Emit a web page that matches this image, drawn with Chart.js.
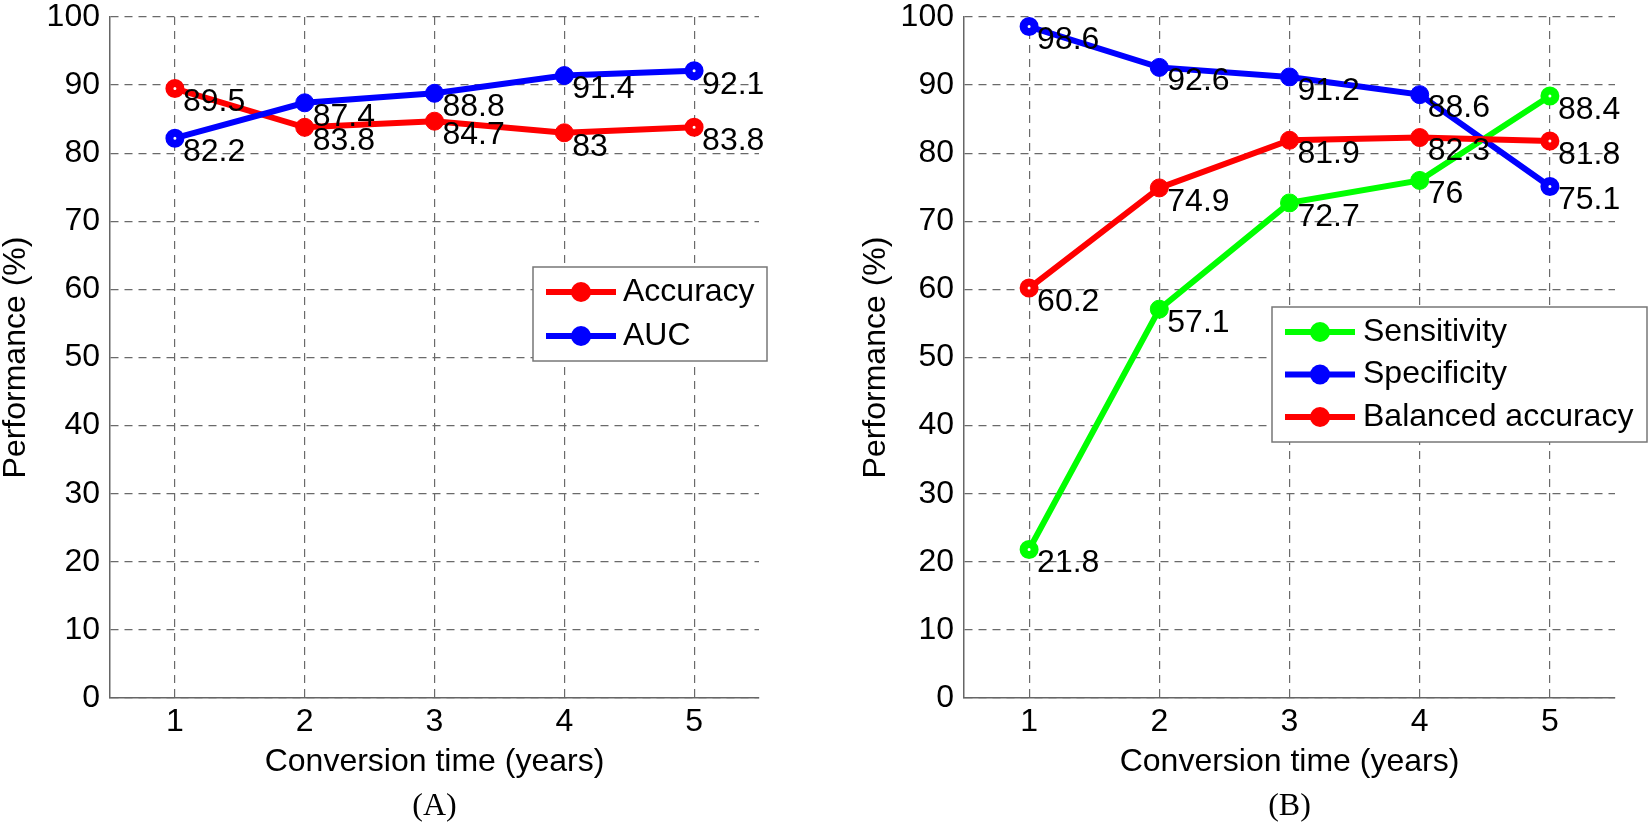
<!DOCTYPE html>
<html>
<head>
<meta charset="utf-8">
<script src="https://cdn.jsdelivr.net/npm/chart.js@4.4.1/dist/chart.umd.min.js"></script>
<style>
  body { margin: 0; background: #fff; width: 1650px; height: 824px; overflow: hidden; }
  canvas { position: absolute; top: 0; }
  #chartA { left: 0; }
  #chartB { left: 825px; }
</style>
</head>
<body>
<canvas id="chartA" width="825" height="824"></canvas>
<canvas id="chartB" width="825" height="824"></canvas>
<script>
// data
const years = ["1", "2", "3", "4", "5"];
const yTicks = [0, 10, 20, 30, 40, 50, 60, 70, 80, 90, 100];

const accuracy = [89.5, 83.8, 84.7, 83, 83.8];
const auc = [82.2, 87.4, 88.8, 91.4, 92.1];

const sensitivity = [21.8, 57.1, 72.7, 76, 88.4];
const specificity = [98.6, 92.6, 91.2, 88.6, 75.1];
const balancedAcc = [60.2, 74.9, 81.9, 82.3, 81.8];

const SANS = '"Liberation Sans", Arial, Helvetica, sans-serif';
const SERIF = '"Liberation Serif", "Times New Roman", serif';
Chart.defaults.font.family = SANS;
Chart.defaults.color = "#000";

// value printed beside every point
const valueLabels = {
    id: "valueLabels",
    afterDatasetsDraw(chart) {
        const ctx = chart.ctx;
        ctx.save();
        ctx.font = "32px " + SANS;
        ctx.fillStyle = "#000";
        ctx.textAlign = "left";
        ctx.textBaseline = "middle";
        chart.data.datasets.forEach((ds, i) => {
            chart.getDatasetMeta(i).data.forEach((pt, j) => {
                ctx.fillText(String(ds.data[j]), pt.x + 8, pt.y + 14);
            });
        });
        ctx.restore();
    }
};

// matlab style legend box (line + marker)
const legendBox = {
    id: "legendBox",
    afterDraw(chart, args, o) {
        const ctx = chart.ctx;
        ctx.save();
        ctx.fillStyle = "#fff";
        ctx.fillRect(o.x, o.y, o.w, o.h);
        ctx.strokeStyle = "#777";
        ctx.lineWidth = 1.5;
        ctx.strokeRect(o.x, o.y, o.w, o.h);
        ctx.font = "32px " + SANS;
        ctx.textAlign = "left";
        ctx.textBaseline = "middle";
        chart.data.datasets.forEach((ds, i) => {
            const y = o.y + o.firstRow + i * o.rowGap;
            ctx.strokeStyle = ds.borderColor;
            ctx.lineWidth = 6;
            ctx.beginPath();
            ctx.moveTo(o.x + o.line0, y);
            ctx.lineTo(o.x + o.line1, y);
            ctx.stroke();
            ctx.fillStyle = ds.borderColor;
            ctx.beginPath();
            ctx.arc(o.x + (o.line0 + o.line1) / 2, y, 10, 0, Math.PI * 2);
            ctx.fill();
            ctx.fillStyle = "#000";
            ctx.fillText(ds.label, o.x + o.textX, y);
        });
        ctx.restore();
    }
};

// end markers show the little white hole of the matlab 'o' marker
function isEnd(c) {
    return c.dataIndex === 0 || c.dataIndex === years.length - 1;
}

function series(label, data, color, order) {
    return {
        label: label,
        data: data,
        borderColor: color,
        backgroundColor: color,
        pointBackgroundColor: c => isEnd(c) ? "#fff" : color,
        pointBorderColor: color,
        pointRadius: c => isEnd(c) ? 5.5 : 9,
        pointBorderWidth: c => isEnd(c) ? 8 : 1,
        pointHoverRadius: 9,
        borderWidth: 6,
        tension: 0,
        order: order
    };
}

function makeChart(id, datasets, cfg) {
    const gridOpts = { color: "#6a6a6a", lineWidth: 1.2, drawTicks: false };
    const borderOpts = { display: true, color: "#666", width: 1.5, dash: [8, 6] };
    return new Chart(document.getElementById(id), {
        type: "line",
        data: { labels: years, datasets: datasets },
        plugins: [valueLabels, legendBox],
        options: {
            responsive: false,
            devicePixelRatio: 1,
            animation: false,
            events: [],
            layout: { padding: { top: 15, left: 0, right: cfg.padRight, bottom: 0 } },
            scales: {
                x: {
                    type: "category",
                    offset: true,
                    grid: gridOpts,
                    border: borderOpts,
                    ticks: { color: "#000", padding: 5, font: { size: 32, lineHeight: 1.2 } },
                    title: {
                        display: true,
                        text: "Conversion time (years)",
                        color: "#000",
                        font: { size: 32, lineHeight: 1 },
                        padding: { top: 0, bottom: 13 }
                    },
                    afterFit(s) { s.height = 93; s.paddingLeft = 0; s.paddingRight = 0; }
                },
                y: {
                    min: 0,
                    max: 100,
                    afterBuildTicks(s) { s.ticks = yTicks.map(v => ({ value: v })); },
                    grid: gridOpts,
                    border: borderOpts,
                    ticks: { color: "#000", padding: 10, font: { size: 32 } },
                    title: {
                        display: true,
                        text: "Performance (%)",
                        color: "#000",
                        font: { size: 32, lineHeight: 1 },
                        padding: { top: cfg.yTitlePad, bottom: 0 }
                    },
                    afterFit(s) { s.width = cfg.yWidth; s.paddingTop = 0; s.paddingBottom = 0; }
                }
            },
            plugins: {
                legend: { display: false },
                tooltip: { enabled: false },
                title: {
                    display: true,
                    text: cfg.panel,
                    position: "bottom",
                    fullSize: false,
                    color: "#000",
                    font: { family: SERIF, size: 32, weight: "normal", lineHeight: 1 },
                    padding: { top: 0, bottom: 1 }
                },
                legendBox: cfg.legend
            }
        }
    });
}

makeChart("chartA", [
    series("Accuracy", accuracy, "#ff0000", 1),
    series("AUC", auc, "#0000ff", 0)
], {
    padRight: 66, yWidth: 110, yTitlePad: 0, panel: "(A)",
    legend: { x: 533, y: 267, w: 234, h: 94, firstRow: 25, rowGap: 44, line0: 13, line1: 83, textX: 90 }
});

makeChart("chartB", [
    series("Sensitivity", sensitivity, "#00ff00", 2),
    series("Specificity", specificity, "#0000ff", 1),
    series("Balanced accuracy", balancedAcc, "#ff0000", 0)
], {
    padRight: 35, yWidth: 139, yTitlePad: 35, panel: "(B)",
    legend: { x: 447, y: 307, w: 375, h: 135, firstRow: 25, rowGap: 42.5, line0: 13, line1: 83, textX: 91 }
});
</script>
</body>
</html>
